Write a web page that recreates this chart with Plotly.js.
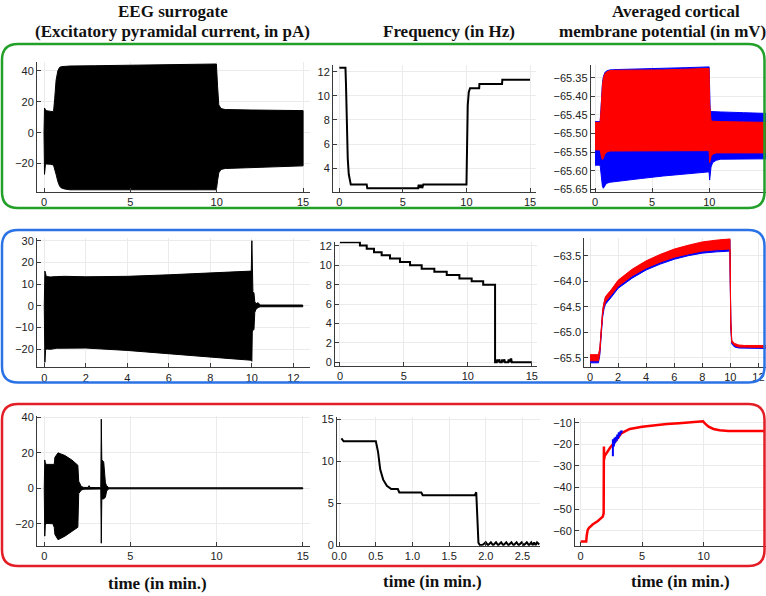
<!DOCTYPE html>
<html><head><meta charset="utf-8">
<script src="https://cdn.plot.ly/plotly-3.0.1.min.js"></script>
<style>html,body{margin:0;padding:0;background:#fff;}</style>
</head><body>
<div id="chart" style="width:766px;height:596px;"></div>
<script>
// ---------------- DATA ----------------
// Row 1 (green): EEG surrogate envelope (pA)
const eeg1_t  = [0.00, 0.03, 0.08, 0.15, 0.40, 0.55, 0.62, 0.70, 0.80, 0.90, 1.00, 1.20, 1.50, 3.00, 5.00, 7.00, 9.00, 9.98, 10.05, 10.12, 10.25, 10.50, 12.00, 15.00];
const eeg1_up = [0.0, 16.0, 15.0, 14.2, 13.8, 13.6, 22.0, 34.0, 40.0, 42.3, 42.8, 43.0, 43.2, 43.4, 43.7, 44.0, 44.3, 44.5, 30.0, 18.0, 15.6, 15.0, 14.7, 14.3];
const eeg1_lo = [0.0, -27.0, -21.0, -20.3, -20.5, -21.0, -23.0, -27.0, -31.5, -34.5, -35.8, -36.5, -37.0, -37.2, -37.2, -37.1, -37.0, -37.0, -31.0, -26.0, -23.8, -23.2, -22.5, -21.5];

// Row 2 (blue): EEG surrogate envelope (pA)
const eeg2_t  = [0.00, 0.03, 0.06, 0.10, 0.30, 0.60, 1.00, 2.00, 4.00, 6.00, 8.00, 9.00, 9.97, 10.00, 10.02, 10.05, 10.10, 10.14, 10.20, 10.30, 10.40, 12.45];
const eeg2_up = [0.0, 16.0, 15.0, 13.5, 13.3, 13.5, 13.6, 13.4, 13.6, 14.3, 15.0, 15.5, 16.0, 30.0, 16.0, 6.5, 6.0, 2.0, 1.0, 1.5, 0.4, 0.4];
const eeg2_lo = [0.0, -26.0, -20.5, -19.8, -20.0, -19.5, -19.4, -19.4, -20.5, -22.0, -23.5, -24.3, -25.0, -25.5, -12.0, -11.0, -11.0, -3.0, -1.5, -0.8, -0.4, -0.4];

// Row 3 (red): EEG surrogate envelope (pA)
const eeg3_t  = [0.00, 0.03, 0.06, 0.10, 0.50, 0.58, 0.62, 0.80, 1.20, 1.60, 1.95, 2.00, 2.05, 2.15, 2.30, 2.55, 2.60, 2.65, 3.00, 3.28, 3.31, 3.34, 3.45, 3.55, 3.62, 3.75, 15.00];
const eeg3_up = [0, 16, 14.5, 13.5, 13.3, 13.5, 17.5, 20, 18.5, 16, 13, 4, 3, 1, 0.5, 0.5, 1.5, 0.5, 0.4, 0.4, 39, 16, 15, 3, 1.5, 0.3, 0.3];
const eeg3_lo = [0, -27, -21, -19.8, -20, -22, -26, -29, -27, -24.5, -22, -3, -2, -1, -0.5, -0.5, -0.5, -0.5, -0.4, -0.4, -31, -6, -6, -5, -1.5, -0.3, -0.3];

// Frequency (Hz)
const freq1_t = [0.00, 0.48, 0.52, 0.56, 0.60, 0.66, 0.74, 0.82, 0.90, 2.15, 2.20, 6.20, 6.24, 6.28, 6.32, 6.36, 6.40, 6.44, 6.48, 6.52, 6.56, 6.60, 10.00, 10.05, 10.10, 10.18, 10.28, 11.00, 11.02, 12.80, 12.82, 15.00];
const freq1   = [12.33, 12.33, 11.0, 9.0, 6.8, 4.8, 3.5, 2.9, 2.65, 2.65, 2.35, 2.35, 2.65, 2.35, 2.65, 2.35, 2.65, 2.35, 2.65, 2.35, 2.65, 2.65, 2.65, 6.0, 9.2, 10.3, 10.63, 10.63, 10.98, 10.98, 11.34, 11.34];

const freq2_t = [0.00, 1.56, 1.56, 2.09, 2.09, 2.66, 2.66, 3.26, 3.26, 3.91, 3.91, 4.69, 4.69, 5.48, 5.48, 6.39, 6.39, 7.38, 7.38, 8.35, 8.35, 9.34, 9.34, 10.30, 10.30, 11.20, 11.20, 12.13, 12.13, 12.26, 12.30, 12.34, 12.38, 12.42, 12.46, 12.52, 12.65, 12.69, 12.73, 12.77, 12.81, 12.85, 12.91, 13.15, 13.19, 13.23, 13.27, 13.31, 13.35, 13.40, 13.44, 15.00];
const freq2   = [12.38, 12.38, 12.05, 12.05, 11.70, 11.70, 11.35, 11.35, 11.05, 11.05, 10.70, 10.70, 10.35, 10.35, 10.00, 10.00, 9.65, 9.65, 9.35, 9.35, 9.00, 9.00, 8.65, 8.65, 8.35, 8.35, 8.00, 8.00, 0.00, 0.00, 0.30, 0.00, 0.30, 0.00, 0.30, 0.00, 0.00, 0.30, 0.00, 0.30, 0.00, 0.30, 0.00, 0.00, 0.30, 0.00, 0.30, 0.00, 0.30, 0.30, 0.00, 0.00];

const freq3_t = [0.03, 0.06, 0.50, 0.53, 0.56, 0.60, 0.65, 0.71, 0.80, 0.82, 1.12, 1.14, 1.85, 1.87, 1.90, 1.92, 1.96, 2.00, 2.03, 2.07, 2.10, 2.14, 2.17, 2.21, 2.24, 2.28, 2.31, 2.35, 2.38, 2.42, 2.45, 2.49, 2.52, 2.56, 2.59, 2.62, 2.64, 2.66, 2.68, 2.70, 2.73];
const freq3   = [12.7, 12.35, 12.35, 11.1, 9.0, 7.8, 7.07, 6.68, 6.68, 6.28, 6.28, 5.95, 5.95, 6.3, 0.3, 0.0, 0.05, 0.35, 0.0, 0.35, 0.0, 0.35, 0.0, 0.35, 0.0, 0.35, 0.0, 0.35, 0.0, 0.35, 0.0, 0.35, 0.0, 0.35, 0.0, 0.35, 0.0, 0.35, 0.0, 0.35, 0.1];

// Averaged cortical membrane potential (mV) – row 1 bands
const mp1_t       = [0.00, 0.45, 0.52, 0.58, 0.65, 0.73, 0.85, 1.00, 1.30, 2.00, 4.00, 6.00, 8.00, 9.98, 10.03, 10.08, 10.15, 10.30, 10.60, 11.00, 13.00, 15.00];
const mp1_red_up  = [-65.470, -65.470, -65.440, -65.400, -65.370, -65.352, -65.340, -65.335, -65.331, -65.330, -65.330, -65.329, -65.327, -65.325, -65.420, -65.462, -65.466, -65.467, -65.468, -65.468, -65.469, -65.470];
const mp1_red_lo  = [-65.544, -65.544, -65.552, -65.565, -65.570, -65.566, -65.556, -65.550, -65.547, -65.546, -65.546, -65.546, -65.546, -65.546, -65.578, -65.572, -65.562, -65.555, -65.552, -65.552, -65.552, -65.552];
const mp1_blue_up = [-65.468, -65.468, -65.435, -65.395, -65.365, -65.348, -65.337, -65.332, -65.329, -65.328, -65.327, -65.325, -65.323, -65.321, -65.400, -65.442, -65.441, -65.441, -65.441, -65.442, -65.444, -65.446];
const mp1_blue_lo = [-65.585, -65.585, -65.600, -65.625, -65.642, -65.647, -65.640, -65.634, -65.631, -65.628, -65.621, -65.614, -65.608, -65.603, -65.625, -65.605, -65.590, -65.578, -65.572, -65.569, -65.568, -65.568];

// row 2 bands
const mp2_t       = [0.00, 0.60, 0.70, 0.80, 0.90, 1.00, 1.10, 1.50, 2.00, 3.00, 4.00, 5.00, 6.00, 7.00, 8.00, 9.00, 9.97, 10.03, 10.10, 10.30, 10.60, 11.00, 12.00, 13.00];
const mp2_red_up  = [-65.44, -65.44, -65.31, -64.91, -64.56, -64.41, -64.30, -64.17, -63.98, -63.765, -63.60, -63.475, -63.37, -63.295, -63.23, -63.195, -63.17, -64.76, -65.16, -65.22, -65.25, -65.26, -65.26, -65.26];
const mp2_red_lo  = [-65.56, -65.56, -65.39, -64.99, -64.64, -64.49, -64.40, -64.27, -64.10, -63.895, -63.74, -63.625, -63.53, -63.465, -63.41, -63.385, -63.37, -64.84, -65.20, -65.26, -65.29, -65.30, -65.30, -65.30];
const mp2_blue_up = [-65.47, -65.47, -65.33, -64.93, -64.58, -64.43, -64.32, -64.19, -64.00, -63.78, -63.615, -63.49, -63.385, -63.31, -63.245, -63.21, -63.185, -64.78, -65.18, -65.24, -65.27, -65.28, -65.28, -65.28];
const mp2_blue_lo = [-65.60, -65.60, -65.44, -65.05, -64.70, -64.54, -64.45, -64.32, -64.14, -63.94, -63.78, -63.665, -63.57, -63.50, -63.45, -63.425, -63.41, -64.90, -65.23, -65.29, -65.31, -65.32, -65.32, -65.32];

// row 3 lines
const mp3_red_t = [0.00, 0.45, 0.50, 0.58, 0.70, 1.00, 1.40, 1.80, 1.87, 1.89, 1.91, 1.95, 2.10, 2.40, 2.70, 3.00, 3.30, 3.60, 4.00, 5.00, 6.00, 7.00, 8.00, 9.00, 9.95, 10.10, 10.40, 10.80, 11.30, 12.00, 13.00, 15.00];
const mp3_red   = [-65.0, -65.0, -62.0, -59.5, -58.5, -57.0, -55.5, -53.5, -52.0, -21.0, -27.0, -25.5, -24.0, -21.5, -19.5, -17.5, -15.0, -14.0, -12.9, -11.9, -11.1, -10.6, -10.2, -9.8, -9.3, -10.3, -11.8, -12.9, -13.5, -13.8, -13.9, -13.9];
const mp3_blue_t = [2.62, 2.62, 2.66, 2.70, 2.75, 2.80, 2.85, 2.92, 2.98, 3.05, 3.10, 3.18, 3.25, 3.32, 3.35];
const mp3_blue   = [-25.5, -17.7, -18.8, -21.0, -17.0, -19.5, -16.5, -18.5, -15.5, -17.5, -14.5, -16.0, -13.8, -14.8, -13.5];

// tick values
const ticks_t15 = [0, 5, 10, 15];
const ticks_t12 = [0, 2, 4, 6, 8, 10, 12];
const ticks_t25 = [0, 0.5, 1, 1.5, 2, 2.5];
const ticks_eeg1 = [-20, 0, 20, 40];
const ticks_eeg2 = [-20, -10, 0, 10, 20, 30];
const ticks_freq1 = [4, 6, 8, 10, 12];
const ticks_freq2 = [0, 2, 4, 6, 8, 10, 12];
const ticks_freq3 = [0, 5, 10, 15];
const ticks_mp1 = [-65.65, -65.60, -65.55, -65.50, -65.45, -65.40, -65.35];
const ticks_mp2 = [-65.5, -65.0, -64.5, -64.0, -63.5];
const ticks_mp3 = [-60, -50, -40, -30, -20, -10];

// ---------------- LAYOUT ----------------
const W = 766, H = 596;
const RED = '#ff0000', BLUE = '#0000ff', BLACK = '#000000';

// panel geometry in pixels: [left,right],[top,bottom]
const panels = [
  {px:[37,310],    py:[61.7,191.7],  xr:[-0.405,15.40], yr:[-38.24,46.0],     xt:ticks_t15, yt:ticks_eeg1},
  {px:[333,536],   py:[65,191.7],    xr:[-0.50,15.47],  yr:[2.06,12.555],     xt:ticks_t15, yt:ticks_freq1},
  {px:[590.7,766], py:[65,191.7],    xr:[-0.376,14.96], yr:[-65.6563,-65.3159], xt:ticks_t15, yt:ticks_mp1, yf:'.2f'},
  {px:[37,310],    py:[238.3,367.3], xr:[-0.35,12.8],   yr:[-28.26,31.1],     xt:ticks_t12, yt:ticks_eeg2},
  {px:[335,537],   py:[241.7,365.7], xr:[-0.39,15.41],  yr:[-0.353,12.44],    xt:ticks_t15, yt:ticks_freq2},
  {px:[584.3,766], py:[238.3,366.7], xr:[-0.41,12.54],  yr:[-65.676,-63.159], xt:ticks_t12, yt:ticks_mp2, yf:'.1f'},
  {px:[37,310],    py:[415.7,545.7], xr:[-0.42,15.42],  yr:[-32.39,40.97],    xt:ticks_t15, yt:ticks_eeg1},
  {px:[337,540],   py:[416.7,545.7], xr:[-0.03,2.74],   yr:[-0.05,15.28],     xt:ticks_t25, yt:ticks_freq3, xf:'.1f'},
  {px:[575,766],   py:[418.3,545.7], xr:[-0.46,15.07],  yr:[-66.94,-7.96],    xt:ticks_t15, yt:ticks_mp3}
];

const layout = {
  width: W, height: H,
  margin: {l:0, r:0, t:0, b:0, pad:0},
  paper_bgcolor: '#ffffff', plot_bgcolor: '#ffffff',
  showlegend: false,
  font: {family: 'Liberation Sans, Arial, sans-serif', size: 11, color: '#222'},
  annotations: [], shapes: []
};

const tickFont = {family: 'Liberation Sans, Arial, sans-serif', size: 11, color: '#222'};
panels.forEach((p, i) => {
  const n = i === 0 ? '' : String(i + 1);
  const common = {
    showline: true, linecolor: '#3a3a3a', linewidth: 1,
    ticks: 'inside', ticklen: 4, tickcolor: '#3a3a3a', tickwidth: 1,
    showgrid: true, gridcolor: '#ebebeb', gridwidth: 1,
    zeroline: false, fixedrange: true, tickfont: tickFont, mirror: false,
    tickmode: 'array'
  };
  layout['xaxis' + n] = Object.assign({}, common, {
    domain: [p.px[0] / W, Math.min(1, p.px[1] / W)], range: p.xr, anchor: 'y' + n,
    tickvals: p.xt, tickformat: p.xf || ''
  });
  layout['yaxis' + n] = Object.assign({}, common, {
    domain: [1 - p.py[1] / H, 1 - p.py[0] / H], range: p.yr, anchor: 'x' + n,
    tickvals: p.yt, tickformat: p.yf || ''
  });
});

// rounded boxes around each row
function rr(x0, y0, x1, y1, r) {
  const X = v => (v / W).toFixed(5), Y = v => (1 - v / H).toFixed(5);
  return `M ${X(x0+r)} ${Y(y0)} L ${X(x1-r)} ${Y(y0)} Q ${X(x1)} ${Y(y0)} ${X(x1)} ${Y(y0+r)} ` +
         `L ${X(x1)} ${Y(y1-r)} Q ${X(x1)} ${Y(y1)} ${X(x1-r)} ${Y(y1)} ` +
         `L ${X(x0+r)} ${Y(y1)} Q ${X(x0)} ${Y(y1)} ${X(x0)} ${Y(y1-r)} ` +
         `L ${X(x0)} ${Y(y0+r)} Q ${X(x0)} ${Y(y0)} ${X(x0+r)} ${Y(y0)} Z`;
}
[[44, 208, '#22a02a'], [230, 382.5, '#2a72e6'], [404, 566, '#e41e26']].forEach(b => {
  layout.shapes.push({type: 'path', xref: 'paper', yref: 'paper', path: rr(2, b[0], 764.5, b[1], 16),
    line: {color: b[2], width: 2.5}, fillcolor: 'rgba(0,0,0,0)'});
});

// text
const serif = {family: 'Liberation Serif, Times New Roman, serif', size: 17, color: '#111', weight: 'bold'};
function ann(text, xpx, ypx, anchor) {
  layout.annotations.push({text: text, xref: 'paper', yref: 'paper', x: xpx / W, y: 1 - ypx / H,
    xanchor: anchor || 'center', yanchor: 'middle', showarrow: false, font: serif});
}
ann('<b>EEG surrogate</b>', 173, 12);
ann('<b>(Excitatory pyramidal current, in pA)</b>', 172, 31);
ann('<b>Frequency (in Hz)</b>', 449, 31);
ann('<b>Averaged cortical</b>', 676, 12);
ann('<b>membrane potential (in mV)</b>', 557, 31, 'left');
ann('<b>time (in min.)</b>', 157, 583);
ann('<b>time (in min.)</b>', 432, 581);
ann('<b>time (in min.)</b>', 680, 581);

// ---------------- TRACES ----------------
function band(t, up, lo, color, k) {
  const n = k === 1 ? '' : String(k);
  return {x: t.concat(t.slice().reverse()), y: up.concat(lo.slice().reverse()),
    type: 'scatter', mode: 'lines', fill: 'toself', fillcolor: color,
    line: {color: color, width: 1}, xaxis: 'x' + n, yaxis: 'y' + n, hoverinfo: 'skip'};
}
function line(t, y, color, w, k) {
  const n = k === 1 ? '' : String(k);
  return {x: t, y: y, type: 'scatter', mode: 'lines', line: {color: color, width: w},
    xaxis: 'x' + n, yaxis: 'y' + n, hoverinfo: 'skip'};
}

const data = [
  band(eeg1_t, eeg1_up, eeg1_lo, BLACK, 1),
  line(freq1_t, freq1, BLACK, 2, 2),
  band(mp1_t, mp1_blue_up, mp1_blue_lo, BLUE, 3),
  band(mp1_t, mp1_red_up, mp1_red_lo, RED, 3),
  band(eeg2_t, eeg2_up, eeg2_lo, BLACK, 4),
  line(freq2_t, freq2, BLACK, 2, 5),
  band(mp2_t, mp2_blue_up, mp2_blue_lo, BLUE, 6),
  band(mp2_t, mp2_red_up, mp2_red_lo, RED, 6),
  band(eeg3_t, eeg3_up, eeg3_lo, BLACK, 7),
  line(freq3_t, freq3, BLACK, 2, 8),
  line(mp3_red_t, mp3_red, RED, 2.5, 9),
  line(mp3_blue_t, mp3_blue, BLUE, 2, 9)
];

Plotly.newPlot('chart', data, layout, {staticPlot: true, displayModeBar: false});
</script>
</body></html>
